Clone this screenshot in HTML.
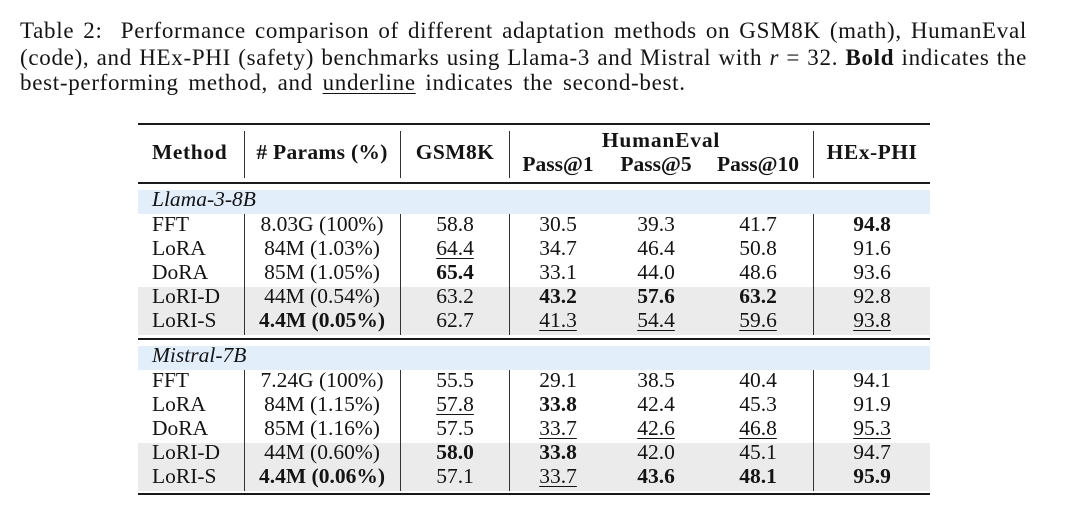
<!DOCTYPE html>
<html><head><meta charset="utf-8">
<style>
html,body{margin:0;padding:0;background:#fff;}
body{width:1080px;height:532px;position:relative;overflow:hidden;font-family:"Liberation Serif",serif;color:#141414;}
.cap{position:absolute;left:20px;width:1007px;font-size:23px;line-height:23px;white-space:nowrap;letter-spacing:0.7px;}
.j{text-align:justify;text-align-last:justify;}
.a{position:absolute;}
.band{position:absolute;left:138px;width:792px;}
.blue{background:#e3eefb;}
.gray{background:#ebebeb;}
.rule{position:absolute;left:138px;width:792px;background:#1a1a1a;}
.vl{position:absolute;width:1px;background:#333;}
.t{position:absolute;font-size:21.5px;line-height:21.5px;white-space:nowrap;}
.c{width:160px;text-align:center;}
.h{font-weight:bold;}
.b{font-weight:bold;}
.u{text-decoration:underline;text-underline-offset:3px;text-decoration-thickness:1px;}
.i{font-style:italic;}
</style></head><body>

<div class="cap j" style="top:18.7px;">Table 2:&nbsp; Performance comparison of different adaptation methods on GSM8K (math), HumanEval</div>
<div class="cap j" style="top:45.7px;">(code), and HEx-PHI (safety) benchmarks using Llama-3 and Mistral with <i>r</i> = 32. <b>Bold</b> indicates the</div>
<div class="cap" style="top:70.7px;width:auto;word-spacing:3.2px;">best-performing method, and <span style="text-decoration:underline;text-underline-offset:3px;text-decoration-thickness:1px;">underline</span> indicates the second-best.</div>

<!-- bands -->
<div class="band blue" style="top:190px;height:24px;"></div>
<div class="band gray" style="top:287px;height:48px;"></div>
<div class="band blue" style="top:346px;height:24px;"></div>
<div class="band gray" style="top:443px;height:48px;"></div>

<!-- rules -->
<div class="rule" style="top:123px;height:2px;"></div>
<div class="rule" style="top:182px;height:1.5px;"></div>
<div class="rule" style="top:338px;height:2px;"></div>
<div class="rule" style="top:493px;height:2px;"></div>

<!-- vertical lines -->
<div class="vl" style="left:244px;top:131px;height:47px;"></div>
<div class="vl" style="left:400px;top:131px;height:47px;"></div>
<div class="vl" style="left:509px;top:131px;height:47px;"></div>
<div class="vl" style="left:813px;top:131px;height:47px;"></div>

<div class="vl" style="left:244px;top:214px;height:121px;"></div>
<div class="vl" style="left:400px;top:214px;height:121px;"></div>
<div class="vl" style="left:509px;top:214px;height:121px;"></div>
<div class="vl" style="left:813px;top:214px;height:121px;"></div>

<div class="vl" style="left:244px;top:370px;height:121px;"></div>
<div class="vl" style="left:400px;top:370px;height:121px;"></div>
<div class="vl" style="left:509px;top:370px;height:121px;"></div>
<div class="vl" style="left:813px;top:370px;height:121px;"></div>

<!-- header -->
<div class="t h" style="left:152px;top:142px;letter-spacing:0.6px;">Method</div>
<div class="t h c" style="left:242px;top:142px;letter-spacing:0.3px;"># Params (%)</div>
<div class="t h c" style="left:375px;top:142px;letter-spacing:0.4px;">GSM8K</div>
<div class="t h c" style="left:581px;top:130px;letter-spacing:0.8px;">HumanEval</div>
<div class="t h c" style="left:478px;top:154px;">Pass@1</div>
<div class="t h c" style="left:576px;top:154px;">Pass@5</div>
<div class="t h c" style="left:678px;top:154px;">Pass@10</div>
<div class="t h c" style="left:792px;top:142px;letter-spacing:0.5px;">HEx-PHI</div>

<!-- Llama section -->
<div class="t i" style="left:152px;top:189px;">Llama-3-8B</div>

<div class="t" style="left:152px;top:214px;">FFT</div>
<div class="t c" style="left:242px;top:214px;">8.03G (100%)</div>
<div class="t c" style="left:375px;top:214px;">58.8</div>
<div class="t c" style="left:478px;top:214px;">30.5</div>
<div class="t c" style="left:576px;top:214px;">39.3</div>
<div class="t c" style="left:678px;top:214px;">41.7</div>
<div class="t c" style="left:792px;top:214px;"><span class="b">94.8</span></div>

<div class="t" style="left:152px;top:238px;">LoRA</div>
<div class="t c" style="left:242px;top:238px;">84M (1.03%)</div>
<div class="t c" style="left:375px;top:238px;"><span class="u">64.4</span></div>
<div class="t c" style="left:478px;top:238px;">34.7</div>
<div class="t c" style="left:576px;top:238px;">46.4</div>
<div class="t c" style="left:678px;top:238px;">50.8</div>
<div class="t c" style="left:792px;top:238px;">91.6</div>

<div class="t" style="left:152px;top:262px;">DoRA</div>
<div class="t c" style="left:242px;top:262px;">85M (1.05%)</div>
<div class="t c" style="left:375px;top:262px;"><span class="b">65.4</span></div>
<div class="t c" style="left:478px;top:262px;">33.1</div>
<div class="t c" style="left:576px;top:262px;">44.0</div>
<div class="t c" style="left:678px;top:262px;">48.6</div>
<div class="t c" style="left:792px;top:262px;">93.6</div>

<div class="t" style="left:152px;top:286px;">LoRI-D</div>
<div class="t c" style="left:242px;top:286px;">44M (0.54%)</div>
<div class="t c" style="left:375px;top:286px;">63.2</div>
<div class="t c" style="left:478px;top:286px;"><span class="b">43.2</span></div>
<div class="t c" style="left:576px;top:286px;"><span class="b">57.6</span></div>
<div class="t c" style="left:678px;top:286px;"><span class="b">63.2</span></div>
<div class="t c" style="left:792px;top:286px;">92.8</div>

<div class="t" style="left:152px;top:310px;">LoRI-S</div>
<div class="t c" style="left:242px;top:310px;"><span class="b">4.4M (0.05%)</span></div>
<div class="t c" style="left:375px;top:310px;">62.7</div>
<div class="t c" style="left:478px;top:310px;"><span class="u">41.3</span></div>
<div class="t c" style="left:576px;top:310px;"><span class="u">54.4</span></div>
<div class="t c" style="left:678px;top:310px;"><span class="u">59.6</span></div>
<div class="t c" style="left:792px;top:310px;"><span class="u">93.8</span></div>

<!-- Mistral section -->
<div class="t i" style="left:152px;top:345px;">Mistral-7B</div>

<div class="t" style="left:152px;top:370px;">FFT</div>
<div class="t c" style="left:242px;top:370px;">7.24G (100%)</div>
<div class="t c" style="left:375px;top:370px;">55.5</div>
<div class="t c" style="left:478px;top:370px;">29.1</div>
<div class="t c" style="left:576px;top:370px;">38.5</div>
<div class="t c" style="left:678px;top:370px;">40.4</div>
<div class="t c" style="left:792px;top:370px;">94.1</div>

<div class="t" style="left:152px;top:394px;">LoRA</div>
<div class="t c" style="left:242px;top:394px;">84M (1.15%)</div>
<div class="t c" style="left:375px;top:394px;"><span class="u">57.8</span></div>
<div class="t c" style="left:478px;top:394px;"><span class="b">33.8</span></div>
<div class="t c" style="left:576px;top:394px;">42.4</div>
<div class="t c" style="left:678px;top:394px;">45.3</div>
<div class="t c" style="left:792px;top:394px;">91.9</div>

<div class="t" style="left:152px;top:418px;">DoRA</div>
<div class="t c" style="left:242px;top:418px;">85M (1.16%)</div>
<div class="t c" style="left:375px;top:418px;">57.5</div>
<div class="t c" style="left:478px;top:418px;"><span class="u">33.7</span></div>
<div class="t c" style="left:576px;top:418px;"><span class="u">42.6</span></div>
<div class="t c" style="left:678px;top:418px;"><span class="u">46.8</span></div>
<div class="t c" style="left:792px;top:418px;"><span class="u">95.3</span></div>

<div class="t" style="left:152px;top:442px;">LoRI-D</div>
<div class="t c" style="left:242px;top:442px;">44M (0.60%)</div>
<div class="t c" style="left:375px;top:442px;"><span class="b">58.0</span></div>
<div class="t c" style="left:478px;top:442px;"><span class="b">33.8</span></div>
<div class="t c" style="left:576px;top:442px;">42.0</div>
<div class="t c" style="left:678px;top:442px;">45.1</div>
<div class="t c" style="left:792px;top:442px;">94.7</div>

<div class="t" style="left:152px;top:466px;">LoRI-S</div>
<div class="t c" style="left:242px;top:466px;"><span class="b">4.4M (0.06%)</span></div>
<div class="t c" style="left:375px;top:466px;">57.1</div>
<div class="t c" style="left:478px;top:466px;"><span class="u">33.7</span></div>
<div class="t c" style="left:576px;top:466px;"><span class="b">43.6</span></div>
<div class="t c" style="left:678px;top:466px;"><span class="b">48.1</span></div>
<div class="t c" style="left:792px;top:466px;"><span class="b">95.9</span></div>

</body></html>
